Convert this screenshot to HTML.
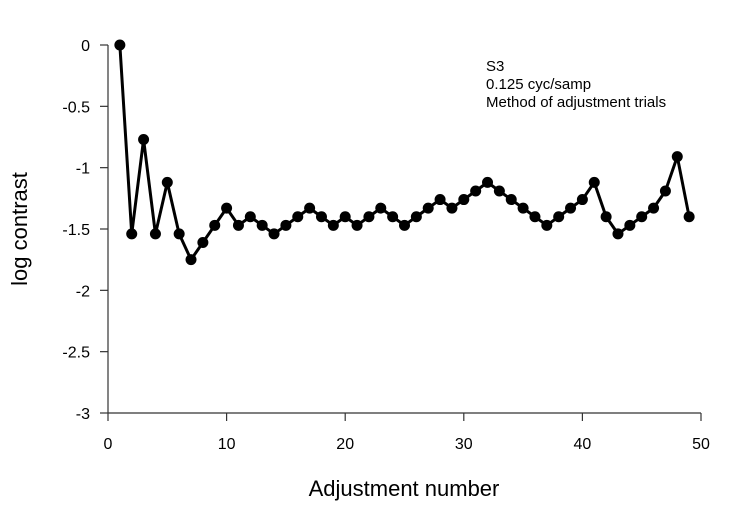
<!DOCTYPE html>
<html><head><meta charset="utf-8"><style>
body{margin:0;background:#fff}
svg text{font-family:"Liberation Sans",Arial,sans-serif;fill:#000}
</style></head><body>
<svg id="chart" width="750" height="510" viewBox="0 0 750 510">
<g id="axes"></g>
<g id="series"></g>
<text transform="translate(27,229) rotate(-90)" text-anchor="middle" font-size="22">log contrast</text>
<text x="404" y="496" text-anchor="middle" font-size="22">Adjustment number</text>
<g font-size="15">
<text x="486" y="71">S3</text>
<text x="486" y="89">0.125 cyc/samp</text>
<text x="486" y="107">Method of adjustment trials</text>
</g>
</svg>
<script>
const trials = [1,2,3,4,5,6,7,8,9,10,11,12,13,14,15,16,17,18,19,20,21,22,23,24,25,26,27,28,29,30,31,32,33,34,35,36,37,38,39,40,41,42,43,44,45,46,47,48,49];
const logContrast = [0,-1.54,-0.77,-1.54,-1.12,-1.54,-1.75,-1.61,-1.47,-1.33,-1.47,-1.40,-1.47,-1.54,-1.47,-1.40,-1.33,-1.40,-1.47,-1.40,-1.47,-1.40,-1.33,-1.40,-1.47,-1.40,-1.33,-1.26,-1.33,-1.26,-1.19,-1.12,-1.19,-1.26,-1.33,-1.40,-1.47,-1.40,-1.33,-1.26,-1.12,-1.40,-1.54,-1.47,-1.40,-1.33,-1.19,-0.91,-1.40];
const xTicks = [0,10,20,30,40,50];
const yTicks = [0,-0.5,-1,-1.5,-2,-2.5,-3];
const NS='http://www.w3.org/2000/svg';
const X0=108,X1=701,Y0=45,Y1=413;
const xs=v=>X0+(v-0)/(50-0)*(X1-X0);
const ys=v=>Y0+(0-v)/(0-(-3))*(Y1-Y0);
function mk(tag,attrs,parent){const e=document.createElementNS(NS,tag);for(const k in attrs)e.setAttribute(k,attrs[k]);parent.appendChild(e);return e;}
const ax=document.getElementById('axes');
let l=mk('line',{x1:X0,y1:Y0,x2:X0,y2:Y1,stroke:'#333','stroke-width':1.2},ax);


l=mk('line',{x1:X0,y1:Y1,x2:X1,y2:Y1,stroke:'#333','stroke-width':1.2},ax);


yTicks.forEach(t=>{const y=ys(t);
 const tk=mk('line',{x1:X0-8,y1:y,x2:X0,y2:y,stroke:'#333','stroke-width':1.2},ax);
 
 
 const tx=mk('text',{x:X0-18,y:y+6,'text-anchor':'end','font-size':16},ax);tx.textContent=String(t);
 
 });
xTicks.forEach(t=>{const x=xs(t);
 const tk=mk('line',{x1:x,y1:Y1,x2:x,y2:Y1+8,stroke:'#333','stroke-width':1.2},ax);
 
 
 const tx=mk('text',{x:x,y:Y1+36,'text-anchor':'middle','font-size':16},ax);tx.textContent=String(t);
 
 });
const sg=document.getElementById('series');
const pts=trials.map((t,i)=>xs(t)+','+ys(logContrast[i])).join(' ');
const pl=mk('polyline',{points:pts,fill:'none',stroke:'#000','stroke-width':3,'stroke-linejoin':'round'},sg);


trials.forEach((t,i)=>{const c=mk('circle',{cx:xs(t),cy:ys(logContrast[i]),r:5.5,fill:'#000'},sg);
 
 });
</script>
</body></html>
